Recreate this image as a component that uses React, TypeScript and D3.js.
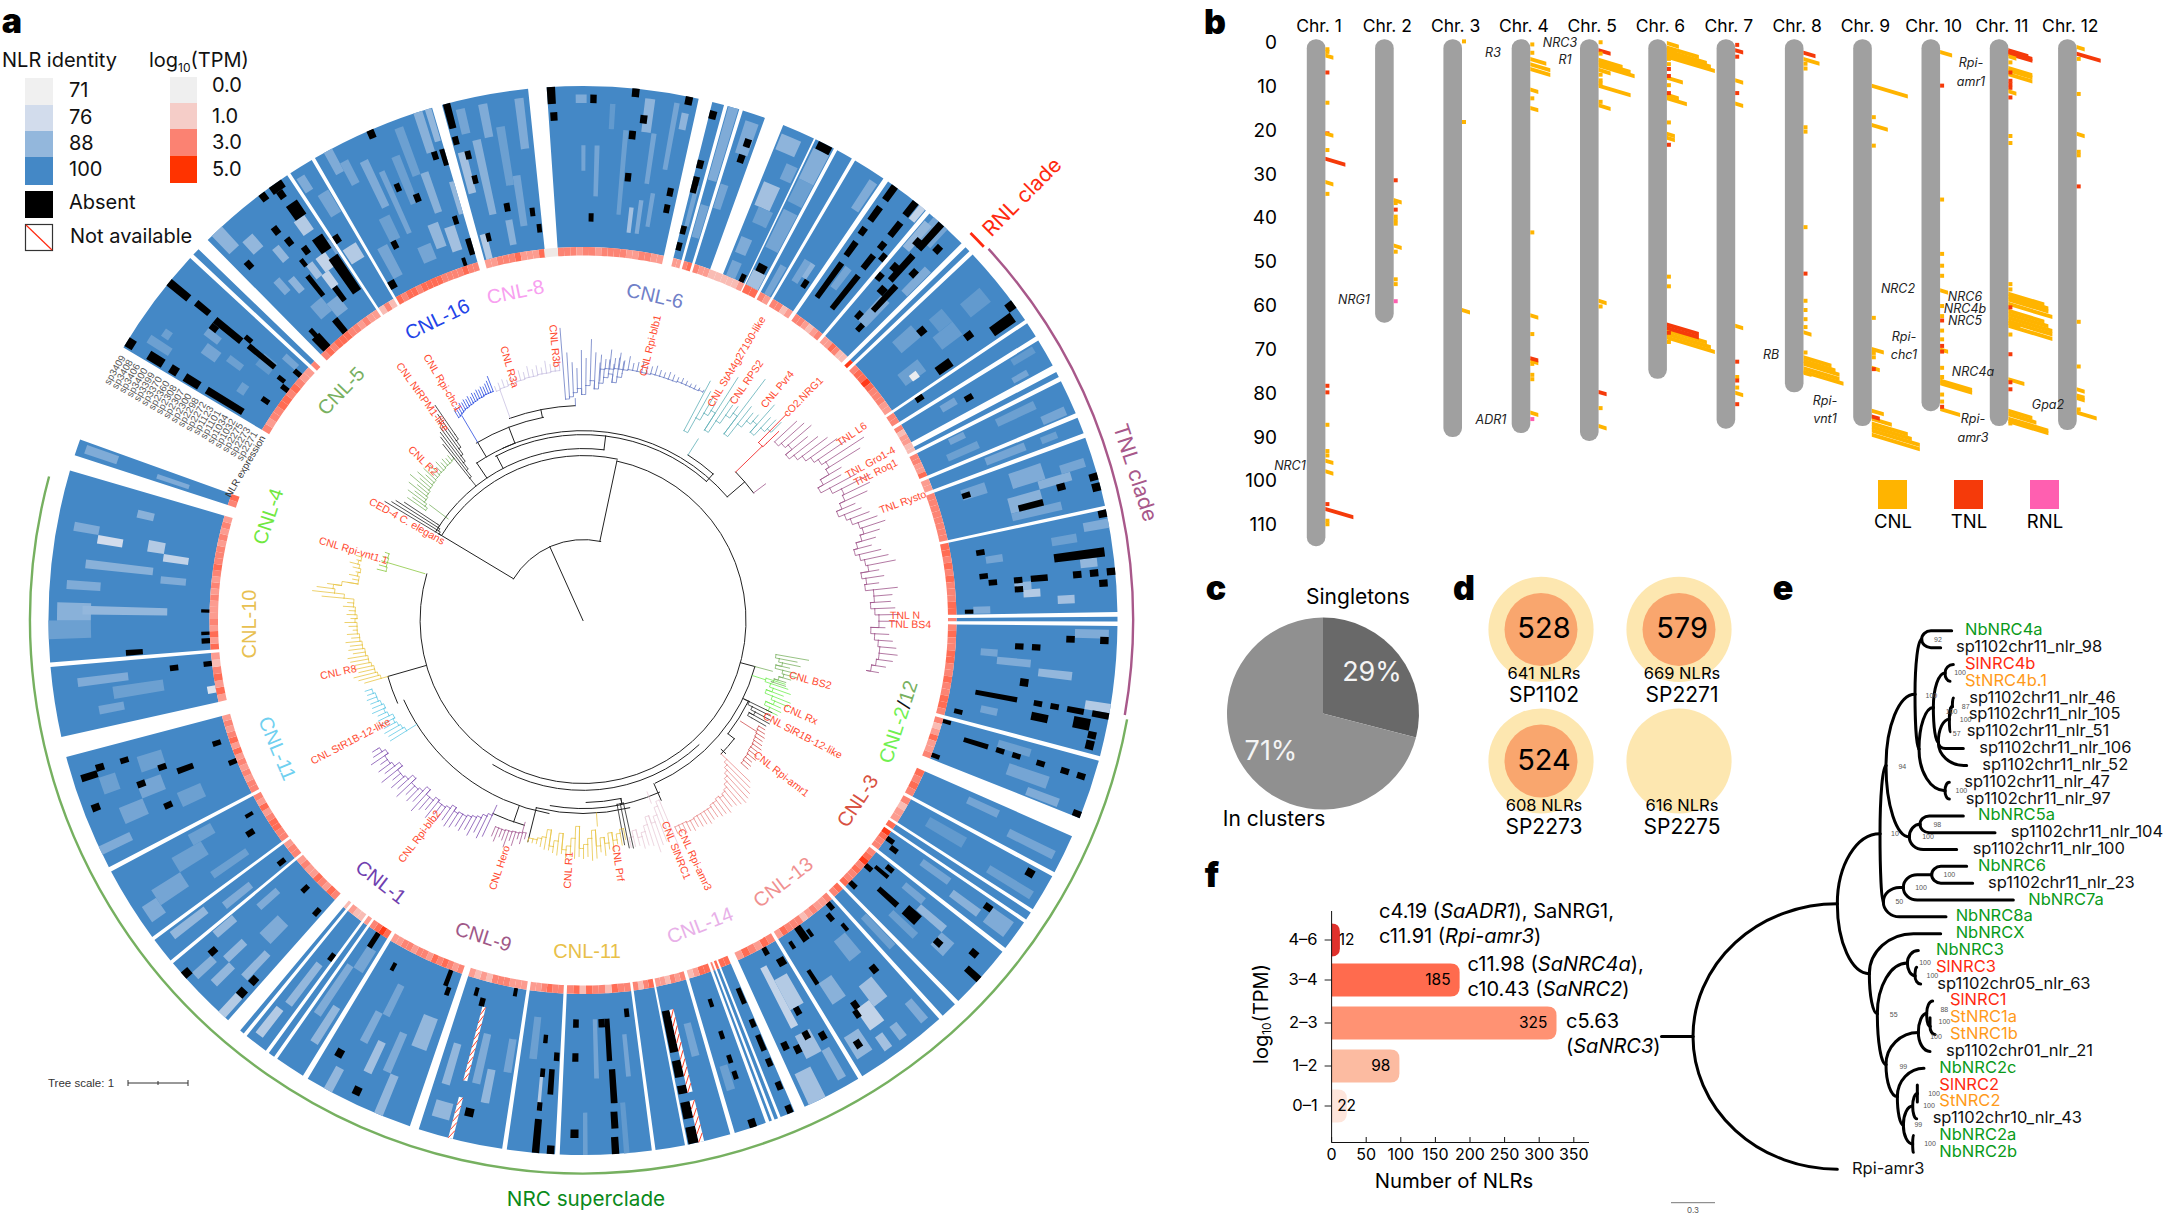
import React from 'react';
import * as d3 from 'd3';

// ---------- panel a: circular heatmap ----------
const CX = 583;
const CY = 620.5;
const RING_IN = 365;
const HEAT_IN = 373.5;
const HEAT_OUT = 534.5;
const ROWS = 19;

const sampleNames = ['sp2271', 'sp2273', 'sp2275', 'sp1032', 'sp1034', 'sp1101', 'sp1123', 'sp2272', 'sp2298', 'sp2300', 'sp2307', 'sp2308', 'sp2360', 'sp3370', 'sp3399', 'sp3400', 'sp3406', 'sp3408', 'sp3409'];

// start deg, end deg, expression levels along the sector
const sectors: [number, number, string][] = [
  [-3.9, 12.5, '33323323333223322'], [14, 15.3, '22'], [15.7, 17, '34'], [17.4, 19.9, '322'],
  [22, 25.6, '1112'], [25.8, 28, '44'], [28.4, 30.2, '32'], [30.6, 34.2, '3312'], [34.8, 39.9, '332123'],
  [40.4, 45.1, '224311'], [45.7, 46.3, '5'], [46.8, 55.8, '3445433322'], [56.2, 57.9, '33'], [58.4, 61.5, '3122'],
  [62.3, 62.9, '1'], [63.4, 67.2, '33224'], [67.7, 69.5, '22'], [70, 77.6, '33333333'], [78, 89.1, '44343433344'],
  [89.6, 90.1, '3'], [90.6, 104.7, '34334433433443'], [105.2, 111.7, '3124223'], [113.8, 118.1, '4343'],
  [118.6, 122.7, '3122'], [123.1, 124, '4'], [124.4, 127.8, '5433'], [128.3, 135.4, '34534334'], [135.9, 137.7, '43'],
  [138.2, 148.5, '32232133342'], [149, 155.5, '342342'], [156.7, 158.3, '44'], [158.6, 159, '4'], [159.3, 159.6, '3'],
  [160, 163.5, '4421'], [164, 168.7, '323122'], [169, 172.2, '4313'], [172.6, 182.5, '3341334143'], [183, 188.2, '334322'],
  [188.7, 197.9, '2223331212'], [198.9, 211, '32343423323322'], [211.6, 214.9, '4543'], [215.3, 216, '2'], [216.4, 219, '112'],
  [219.4, 219.9, '1'], [221.6, 230.1, '342342232'], [230.5, 233.3, '332'], [233.7, 242, '334432423'], [242.5, 255.2, '33232324243232'],
  [257.4, 265, '2424312'], [265.5, 286.3, '4242322232323433323232'], [288, 289.8, '34'], [300.7, 312.7, '32334434322'],
  [313.2, 314, '3'], [315.4, 326.4, '343444332322'], [326.8, 329.5, '131'], [329.9, 343.6, '4344344443333433'], [344.7, 354.1, '2233342224'],
];
const ringExtras: [number, number, string][] = [[-6, -3.9, '0'], [19.9, 22, '11'], [61.5, 62.3, '1']];
const ringColors = ['#efe9e6', '#f9bcb4', '#fc9c90', '#fc8474', '#ff6c54', '#ff3a18'];

// deg start, deg end, row start, row end
const absentRuns: [number, number, number, number][] = [
  [-3.9, -3, 17, 19], [-3.7, -2.9, 15, 16], [0.8, 1.5, 17, 18], [5.3, 6.1, 18, 19], [6.5, 7.3, 15, 16], [5.4, 6.2, 13, 14], [5.4, 6.2, 8, 9], [0.8, 1.5, 3, 4],
  [11.1, 11.9, 18, 19], [11.1, 11.9, 7, 8], [11.1, 11.9, 5, 6], [14, 14.8, 17, 18], [14, 14.8, 11, 12], [14, 14.8, 8, 10], [14, 14.8, 3, 4], [14, 14.8, 1, 2],
  [18.6, 19.4, 15, 16], [18.5, 19.3, 13, 14], [26.2, 27.6, 2, 3], [24.6, 25.4, 0, 1], [26.2, 27.8, 18, 19], [33, 33.8, 3, 4],
  [35.5, 36.3, 3, 8], [38.2, 39, 3, 8], [35.4, 36.2, 9, 11], [38.1, 38.9, 9, 11], [35.3, 36.1, 12, 13], [35.3, 36.1, 14, 16], [35.3, 36.1, 17, 19],
  [38.2, 39, 12, 13], [39.2, 39.9, 11, 12], [38.2, 39, 14, 16], [38.1, 38.9, 17, 19], [41.7, 42.5, 15, 19], [41.1, 41.9, 15, 16], [43.3, 44.1, 16, 17],
  [41.7, 42.5, 10, 14], [43.2, 44, 12, 13], [41, 41.8, 11, 12], [40.4, 41.2, 9, 10], [42.7, 43.5, 6, 10], [41.7, 42.7, 8, 9], [41.7, 42.5, 4, 5], [43, 43.8, 3, 4],
  [53.2, 54.2, 18, 19], [54.2, 55.4, 15, 18], [49, 50, 8, 9], [53.1, 54, 12, 13], [54.3, 55.5, 7, 9], [56.2, 57, 3, 4], [59.6, 60.4, 8, 9],
  [73.9, 74.7, 18, 19], [75, 75.9, 18, 19], [74, 74.8, 14, 15], [71.5, 72.3, 3, 4], [75.2, 76, 9, 12], [78, 78.8, 18, 19], [79.9, 80.7, 3, 4], [82, 83, 12, 18],
  [83.3, 84.1, 3, 4], [84.3, 85.1, 4, 5], [84.3, 85.1, 7, 8], [84.3, 85.1, 9, 11], [84.3, 85.1, 14, 15], [84.3, 85.1, 16, 17], [84.3, 85.1, 18, 19],
  [85.5, 86.3, 17, 18], [85.5, 86.3, 7, 8], [88.4, 89, 1, 2], [91.8, 92.6, 13, 14], [91.8, 92.6, 17, 18], [93, 93.8, 7, 8], [93, 93.8, 9, 10], [97.5, 98.5, 8, 9],
  [100, 100.7, 3, 8], [100, 100.7, 10, 11], [100, 100.7, 12, 13], [100, 100.7, 14, 16], [100, 100.7, 17, 19], [103.3, 104, 1, 2], [101.5, 102.5, 10, 12],
  [101, 102.3, 15, 17], [102.3, 103.1, 17, 18], [103.3, 104.3, 17, 18], [105.3, 105.9, 0, 1], [107, 107.7, 3, 6], [107, 107.7, 7, 8], [107, 107.7, 9, 10],
  [107, 107.7, 12, 13], [107, 107.7, 15, 16], [107, 107.7, 17, 18], [110.7, 111.4, 0, 1], [111, 111.7, 18, 19], [119, 119.9, 16, 17],
  [125.2, 126, 0, 1], [126, 126.8, 1, 2], [124.9, 125.7, 14, 15], [128.6, 129.4, 2, 3], [130.5, 131.3, 0, 1], [129.8, 130.4, 1, 3], [131.8, 132.6, 3, 6],
  [131.1, 132.6, 7, 9], [131.8, 132.6, 12, 13], [130, 130.8, 16, 17], [131.8, 132.6, 17, 19], [134, 134.8, 0, 1],
  [138.7, 139.5, 0, 1], [139.8, 140.6, 1, 2], [139.2, 139.8, 3, 4], [139.7, 140.6, 9, 10], [144.3, 145.1, 11, 12], [144.8, 145.5, 12, 13], [146.6, 147.4, 15, 16],
  [144.5, 145.6, 0, 2], [143.7, 144.3, 1, 2], [146.9, 147.5, 1, 2], [146.9, 147.5, 5, 7],
  [150.7, 151.5, 0, 1], [149.2, 150.4, 2, 3], [150.8, 151.6, 8, 9], [151.3, 152.1, 11, 12], [149.6, 150.4, 12, 13], [153, 153.8, 12, 13], [154.2, 155, 11, 12],
  [156.8, 157.5, 3, 5], [156.8, 157.5, 7, 8], [156.8, 157.5, 9, 11], [156.8, 157.5, 12, 13], [156.8, 157.5, 15, 16], [156.8, 157.5, 18, 19],
  [161.2, 161.8, 3, 4], [161.2, 161.8, 7, 8], [161.2, 161.8, 10, 11], [161.2, 161.8, 12, 13], [161, 161.8, 18, 19],
  [167.5, 168.6, 3, 8], [167.5, 168.6, 9, 11], [167.5, 168.6, 12, 13], [167.5, 168.6, 14, 16], [167.5, 168.6, 17, 19],
  [173.3, 174, 2, 3], [176.2, 176.9, 3, 8], [176.9, 177.8, 3, 4], [175.9, 176.7, 9, 13], [176, 176.8, 14, 16], [176.1, 176.9, 17, 19],
  [180.6, 181.4, 3, 4], [180.6, 181.4, 7, 8], [180.5, 181.4, 16, 17], [183.1, 183.9, 18, 19], [183.1, 183.8, 7, 8], [183.6, 184.3, 9, 12],
  [184.8, 185.4, 5, 6], [184.8, 185.4, 9, 10], [184.8, 185.4, 13, 14], [184.7, 185.5, 15, 19], [190, 190.6, 0, 1], [194.4, 195.2, 2, 3], [195.7, 196.3, 1, 2], [192.5, 193.5, 15, 16],
  [199.7, 200.4, 2, 3], [200.3, 201, 0, 2], [208.9, 209.8, 14, 15], [205.2, 206.1, 17, 18], [216.4, 217.1, 5, 6], [212.8, 213.6, 0, 2], [208.4, 209, 2, 3],
  [222, 222.9, 13, 14], [222, 223, 15, 16], [222, 222.8, 2, 3], [225.6, 226.4, 1, 2], [227.8, 228.6, 14, 15], [227.9, 228.8, 18, 19], [230.9, 231.7, 1, 2],
  [237, 237.9, 2, 3], [239.5, 240.1, 1, 2], [245.6, 246.4, 9, 10], [249.3, 250.1, 11, 12], [248.6, 249.4, 17, 18], [252.1, 252.9, 16, 18], [252.7, 253.5, 15, 16],
  [252.7, 253.4, 12, 13], [250.4, 251.2, 8, 9], [249.2, 250, 5, 7], [251.1, 251.9, 1, 2], [247.6, 248.4, 0, 1],
  [265.6, 266.3, 8, 10], [263, 263.8, 4, 5], [263, 263.8, 0, 1], [266.5, 267.3, 0, 1], [267.8, 268.3, 0, 1], [271.2, 271.7, 0, 1],
  [300.9, 302, 18, 19], [300.9, 302, 14, 16], [300.9, 302, 12, 13], [300.9, 302, 9, 11], [301, 302, 3, 8], [308.8, 309.7, 16, 19], [309, 309.8, 13, 15], [308.8, 309.7, 8, 12],
  [308, 308.8, 11, 12], [309.7, 310.4, 7, 8], [309, 309.8, 3, 7], [310.5, 311.3, 0, 1], [308.3, 309, 1, 2], [307.5, 308.3, 0, 1], [304.3, 305.1, 1, 2],
  [316, 317.5, 0, 2], [316.5, 317.2, 1, 3], [320, 321, 0, 2], [316.4, 317.2, 13, 14], [322.6, 323.4, 18, 19], [321.4, 322.2, 14, 15], [321.8, 322.6, 12, 13],
  [322.8, 323.6, 10, 11], [321.7, 322.3, 9, 10], [321, 321.7, 5, 8], [322.9, 323.7, 3, 5], [324, 325.6, 18, 19], [324.3, 325.1, 17, 18], [324.3, 325.8, 14, 16],
  [324.5, 326, 9, 11], [326.8, 327.6, 9, 10], [324.8, 326.2, 3, 8], [329.9, 331, 1, 2], [341.4, 342, 0, 1], [342.8, 343.6, 1, 3], [336.5, 337.2, 11, 12],
  [336.1, 336.9, 18, 19], [338.2, 339, 9, 10], [333, 333.8, 5, 6], [342, 342.7, 13, 14], [343, 343.6, 12, 14], [344.8, 345.6, 16, 19], [344.8, 345.5, 14, 15],
  [345.8, 346.5, 12, 13], [345.9, 346.6, 9, 10], [342, 342.7, 5, 6], [345.8, 346.5, 2, 3], [349.2, 350, 5, 6], [352.6, 353.3, 4, 5], [353.3, 354, 2, 3],
];

// deg start, deg end, row start, row end, identity
const lightRuns: [number, number, number, number, number][] = [
  [6.8, 7.9, 14, 18, 85], [4.7, 5.3, 4, 14, 92], [1.4, 2, 6, 12, 90], [-0.2, 0.3, 9, 12, 90], [-0.8, 0.4, 17, 18, 88], [10, 10.6, 10, 18, 90], [8, 8.6, 8, 14, 90], [11, 11.8, 15, 17, 85], [7.6, 8.2, 2, 6, 88], [6.4, 7, 2, 5, 82], [9, 9.6, 3, 7, 90], [3, 3.6, 14, 17, 94],
  [14.4, 15, 4, 9, 90], [15.8, 16.9, 10, 19, 88], [15.8, 16.9, 3, 7, 90], [17.5, 18.5, 7, 10, 90], [18, 19.5, 14, 18, 88],
  [22.2, 24.5, 16, 18, 85], [22.4, 24.5, 9, 12, 82], [23, 25, 7, 9, 92], [22.4, 24, 3, 5, 88], [22.5, 24, 0, 2, 90], [24, 25.4, 13, 15, 90],
  [25.9, 27.9, 0, 2, 82], [26, 27.9, 5, 10, 90], [26, 27.9, 11, 14, 92], [26, 27.9, 14, 18, 87], [29, 30, 0, 4, 90],
  [32.4, 33.2, 4, 6, 85], [33, 34, 14, 18, 88], [31.5, 32.5, 3, 6, 90], [36.5, 37.5, 5, 8, 90], [39, 39.8, 17, 19, 78],
  [44, 45, 10, 14, 88], [41, 43, 16, 19, 90], [40.5, 41.5, 14, 18, 84], [42.5, 44, 4, 8, 88],
  [50, 52, 14, 17, 94], [48, 50, 5, 8, 92], [51, 53, 9, 12, 93], [49, 51, 10, 12, 94], [52, 54, 3, 6, 92], [53.1, 54.1, 4, 5, 72],
  [59, 60, 5, 7, 90], [60.5, 61.2, 14, 16, 90], [58.6, 59.4, 15, 18, 94], [64, 65, 10, 15, 92], [65.5, 66.5, 3, 7, 92], [66, 67, 15, 18, 90], [63.6, 64.5, 4, 6, 90], [68, 69, 7, 12, 90], [68.2, 69, 14, 16, 92],
  [71, 73, 9, 13, 88], [73, 74, 12, 16, 86], [72, 73, 15, 18, 90], [74, 76, 8, 12, 86], [76, 77, 8, 14, 90], [71, 72.5, 3, 6, 90],
  [79, 80, 16, 19, 88], [80, 81, 12, 15, 92], [83, 84, 15, 17, 84], [85, 86, 7, 9, 84], [86, 87, 8, 10, 80], [87, 88, 12, 14, 82], [81, 82, 4, 6, 90], [88, 89, 2, 4, 88],
  [91, 92, 14, 18, 88], [94, 95, 3, 5, 90], [96, 97, 10, 14, 84], [95, 96, 5, 9, 88], [99, 100, 16, 19, 80], [102, 103, 4, 6, 90],
  [106, 107, 7, 11, 92], [108.5, 110, 9, 14, 90], [110.5, 111.5, 12, 16, 88], [114.5, 115.5, 6, 10, 90], [116, 117, 12, 18, 90], [119.5, 121, 3, 8, 94], [121, 122, 12, 18, 92],
  [125, 126, 5, 9, 90], [126, 127, 10, 14, 86], [125, 127, 15, 18, 88], [129, 130, 5, 8, 90], [130, 131, 8, 12, 84], [131, 133, 12, 14, 88], [133, 134, 6, 10, 92], [136, 137, 4, 9, 92],
  [141, 143, 10, 13, 82], [143, 145, 12, 15, 78], [145, 147, 7, 10, 86], [146, 148, 14, 17, 84], [140, 142, 4, 7, 90], [139, 140, 15, 18, 88], [142, 143, 16, 18, 86], [144, 145, 16, 18, 82],
  [150, 152, 4, 8, 80], [152, 153, 2, 10, 78], [151, 153, 11, 14, 82], [153, 155, 15, 19, 82], [150, 151, 14, 18, 86],
  [165, 166, 5, 9, 90], [162, 163, 11, 14, 92], [178, 178.6, 3, 10, 90], [179.5, 180, 14, 19, 92], [174, 174.6, 5, 10, 90], [175, 175.6, 13, 19, 94], [186, 187, 3, 8, 92], [185, 185.4, 10, 14, 80],
  [189, 190, 6, 10, 90], [191, 192, 10, 14, 84], [192.5, 193.5, 6, 12, 88], [196, 197, 8, 13, 84], [195, 197, 15, 17, 84],
  [200, 202, 6, 10, 84], [203, 204, 9, 14, 88], [202, 203, 14, 19, 84], [205, 206, 11, 15, 82], [207, 208, 8, 12, 88], [208, 209, 16, 19, 84], [206, 207, 4, 8, 90],
  [212, 213, 10, 15, 84], [213.5, 214.5, 5, 12, 88], [212, 213.5, 2, 5, 90], [217, 218, 7, 13, 84], [217.5, 218.5, 14, 18, 80],
  [223, 224, 10, 14, 84], [224, 226, 6, 9, 88], [226, 227, 11, 14, 84], [228, 229, 4, 7, 88], [225, 226, 14, 17, 84], [222, 223, 16, 19, 80], [227, 228, 15, 18, 86], [229, 230, 10, 13, 84],
  [231, 232, 6, 10, 88], [232, 233, 12, 17, 84], [235, 236, 4, 9, 92], [238, 240, 8, 12, 92], [236, 238, 12, 16, 90], [235, 237, 16, 18, 88], [240, 241.5, 6, 9, 92],
  [245, 247, 5, 8, 92], [248, 250, 9, 12, 90], [246, 248, 12, 15, 90], [251, 253, 8, 11, 92], [250, 252, 14, 16, 92], [244, 245, 15, 19, 88],
  [259, 260, 11, 14, 90], [260.5, 262, 6, 12, 92], [262.5, 263.5, 10, 16, 88], [258.9, 260, 0, 1, 74],
  [268, 270, 14, 19, 92], [270, 272, 14, 18, 86], [270.7, 271.7, 5, 15, 84], [275, 276, 3, 6, 88], [276, 277, 7, 15, 86], [278, 279, 3, 6, 78], [279, 280.5, 6, 8, 80], [279, 280, 11, 14, 76], [280, 281, 14, 17, 88], [273.5, 274.5, 13, 17, 88], [283, 284, 8, 10, 86],
  [288.5, 289.5, 14, 18, 88], [288.4, 289, 5, 9, 88],
  [302.5, 303.5, 14, 17, 92], [304, 305, 15, 16, 92], [306, 307, 6, 8, 92], [308, 310, 3, 5, 94], [311, 312, 1, 3, 90], [303.5, 305, 4, 5, 92], [307, 308, 10, 12, 90], [305, 306.5, 9, 11, 90],
  [316, 317.5, 16, 19, 85], [318, 319.5, 14, 16, 84], [320, 321, 11, 13, 84], [317.5, 318.5, 8, 10, 88], [319, 320, 7, 9, 85], [322, 323, 7, 9, 82], [322.8, 324, 5, 7, 78], [323.5, 325, 7, 9, 78], [321, 323, 2, 4, 88], [319, 321, 3, 5, 90], [324, 325.5, 12, 14, 80], [326, 326.4, 8, 10, 90],
  [327, 328, 16, 18, 88], [328, 329.4, 12, 15, 90], [327, 329, 6, 8, 80],
  [331, 332, 16, 19, 88], [332, 333, 14, 17, 90], [334, 335, 10, 16, 88], [335.5, 336.2, 6, 14, 90], [337.5, 338.5, 9, 15, 92], [339, 340, 12, 18, 92], [340, 341, 7, 12, 86], [341.5, 342.5, 14, 19, 86], [342.8, 343.5, 15, 19, 84], [331, 332.5, 2, 6, 90], [333, 334.5, 6, 9, 92], [336, 338, 2, 4, 90], [338.5, 340, 3, 6, 84], [340.5, 342, 2, 5, 82], [343, 343.6, 6, 10, 84],
  [345, 346, 8, 13, 82], [347, 348, 5, 14, 86], [346, 347, 15, 18, 90], [348.5, 349.5, 14, 18, 88], [350, 351, 8, 15, 92], [351, 352, 3, 9, 90], [352.5, 353.5, 12, 18, 88], [349, 350, 1, 4, 86], [345, 346, 0, 3, 80],
];

// not-available columns: deg start, deg end, row start, row end
const missingRuns: [number, number, number, number][] = [[166.9, 167.5, 3, 13], [166.9, 167.5, 14, 19], [194.1, 194.6, 3, 12], [194.1, 194.6, 14, 19]];

const identityColor = d3.scaleLinear<string>().domain([71, 76, 84, 100]).range(['#f0f0f0', '#d2dcec', '#93b7dc', '#4488c6']);

// tree backbone: radius, deg start, deg end
const backboneArcs: [number, number, number][] = [
  [81, -59, 12.6], [163, 12, 286.6], [165, -59, 12], [172, -59, 7], [186, -28, 41.6], [190, -25, 49.4], [190, -34, -21], [207, -31, -11], [215, -20, -2],
  [196, 32.4, 41.6], [213, 45.8, 53.2], [170, 137, 212], [178, 105, 156], [188, 156, 190], [196, 190, 246], [203, 246, 254], [182, 168, 179], [193, 166, 194], [213, 196, 205],
  [184, 116, 128], [192, 128, 134],
];
// deg, radius start, radius end
const backboneRadials: [number, number, number][] = [
  [-24.2, 0, 81], [12, 81, 163], [-59, 81, 168], [7, 172, 186], [-27.7, 172, 186], [41.6, 186, 196], [49.4, 190, 213], [-21, 190, 207], [-34, 172, 190], [-11.3, 207, 215],
  [156.5, 178, 196], [194, 193, 228], [133, 189, 195], [199, 196, 213], [105, 163, 178], [254, 163, 203], [-30.6, 190, 207], [168, 182, 187], [128, 184, 192], [116, 178, 185],
];

// each clade: angular range, stem, spine radius and tip radius for every leaf
const cnl5Spine = [192, 195, 198, 198, 200, 200, 202, 202, 203, 203, 204, 204, 205, 205, 205, 206, 206, 206, 207, 207];
const cnl5Tips = [214, 210, 218, 212, 222, 214, 226, 216, 222, 214, 220, 212, 218, 212, 216, 212, 214, 212, 213, 210];
const blackASpine = [182, 190, 198, 205, 212, 220, 226];
const blackATips = [225, 232, 236, 240, 246, 252, 261];
const ced4Spine = [168, 170, 172, 174];
const ced4Tips = [231, 225, 222, 214];
const cnl16Spine = [238, 239, 240, 241, 242, 242, 243, 243, 244, 244, 245, 245, 245, 246, 246, 246, 246, 246];
const cnl16Tips = [246, 248, 247, 250, 249, 251, 250, 252, 250, 253, 252, 254, 253, 255, 254, 256, 258, 262];
const cnl8Spine = [245, 246, 246, 247, 247, 248, 248, 249, 249, 249, 250, 250, 250, 251, 251, 251];
const cnl8Tips = [250, 252, 254, 252, 256, 254, 258, 255, 260, 256, 259, 256, 262, 258, 260, 262];
const cnl6ASpine = [222, 224, 228, 232, 226, 235, 240, 232, 238, 244, 248, 240, 246, 250];
const cnl6ATips = [293, 268, 258, 252, 270, 262, 281, 268, 258, 252, 262, 258, 265, 262];
const cnl6BSpine = [252, 253, 253, 254, 254, 254, 255, 255, 255, 255, 255, 256, 256, 256, 256, 256, 256, 257, 257, 257, 257, 257, 258, 258];
const cnl6BTips = [266, 262, 272, 264, 270, 263, 268, 262, 264, 266, 262, 263, 265, 262, 261, 263, 262, 261, 262, 261, 260, 261, 260, 260];
const tealSpine = [215, 232, 240, 246, 226, 240, 250, 256, 234, 250, 258, 262, 252, 262, 266, 268];
const tealTips = [271, 262, 258, 256, 288, 268, 262, 264, 302, 272, 268, 270, 288, 276, 278, 280];
const rnlSpine = [250, 255];
const rnlTips = [289, 272];
const tnlSpine = [262, 266, 270, 262, 268, 274, 280, 285, 290, 286, 276, 270, 280, 290, 288, 282, 276, 282, 286, 292, 294, 290, 284, 280, 284, 288, 290, 282, 286, 284, 292, 292, 288, 292, 296, 296, 288, 292, 296, 298, 298, 296, 292, 288];
const tnlTips = [292, 296, 300, 290, 298, 305, 312, 318, 335, 326, 300, 296, 310, 322, 318, 312, 296, 300, 306, 312, 318, 310, 304, 298, 306, 312, 318, 300, 304, 298, 316, 310, 308, 312, 316, 314, 302, 306, 310, 314, 316, 312, 306, 300];
const bs2Spine = [196, 200, 204, 198, 206, 208, 204, 200, 198];
const bs2Tips = [229, 218, 222, 212, 220, 222, 216, 212, 213];
const rxSpine = [192, 198, 202, 196, 204, 208, 200, 206, 204];
const rxTips = [212, 216, 220, 214, 223, 222, 216, 218, 216];
const blackBSpine = [185, 190, 195, 190, 195];
const blackBTips = [210, 209, 212, 213, 211];
const cnl3Spine = [205, 206, 207, 208, 209, 210, 210, 211, 212, 212, 213, 213];
const cnl3Tips = [212, 214, 216, 216, 218, 220, 218, 220, 222, 220, 222, 222];
const cnl13Spine = [200, 204, 208, 212, 216, 220, 222, 224, 222, 224, 224, 226, 226, 226, 226, 226, 227, 227, 226, 226, 226, 226];
const cnl13Tips = [232, 236, 240, 242, 244, 242, 240, 238, 242, 240, 240, 238, 238, 240, 238, 238, 236, 238, 236, 236, 234, 233];
const cnl14Spine = [195, 200, 208, 214, 206, 214, 220, 224, 216, 222, 226];
const cnl14Tips = [245, 232, 236, 238, 244, 236, 234, 236, 232, 232, 232];
const blackCSpine = [187, 187, 187];
const blackCTips = [233, 232, 228];
const cnl11Spine = [212, 216, 222, 214, 224, 218, 226, 210, 218, 224, 228, 206, 218, 226, 230, 214, 222, 228, 212, 220, 222, 224, 224, 226];
const cnl11Tips = [223, 228, 226, 232, 230, 236, 232, 238, 240, 236, 238, 236, 238, 236, 238, 234, 236, 234, 232, 232, 230, 228, 228, 228];
const cnl9Spine = [220, 221, 222, 222, 223, 223, 224, 224, 224, 224];
const cnl9Tips = [226, 232, 228, 236, 232, 240, 234, 232, 238, 234];
const cnl1Spine = [215, 218, 222, 224, 226, 228, 228, 230, 226, 230, 232, 232, 230, 234, 234, 228, 234, 236, 236, 230, 236, 238, 238, 232, 238, 240, 240, 236, 240, 242];
const cnl1Tips = [238, 242, 238, 244, 240, 244, 242, 246, 248, 244, 248, 244, 252, 246, 250, 256, 248, 252, 248, 256, 250, 254, 248, 258, 250, 254, 248, 256, 250, 248];
const cnl11bSpine = [208, 210, 212, 214, 212, 216, 218, 216, 218, 220, 220, 222, 222];
const cnl11bTips = [227, 226, 228, 226, 230, 228, 226, 230, 228, 228, 230, 228, 229];
const cnl10Spine = [210, 212, 214, 214, 216, 218, 218, 220, 220, 222, 222, 224, 224, 226, 226, 226, 228, 226, 228, 228, 230, 230, 240, 250, 252, 244, 228, 228, 230, 228, 230, 232, 230, 232];
const cnl10Tips = [227, 232, 236, 230, 234, 232, 236, 238, 232, 236, 234, 238, 232, 236, 230, 234, 238, 232, 236, 234, 240, 236, 262, 272, 268, 258, 238, 234, 238, 232, 236, 240, 234, 236];
const vnt1Spine = [203, 204, 204, 205, 205];
const vnt1Tips = [212, 211, 210, 210, 209];

const clades = [
  { color: '#7cb263', a0: -55, a1: -38.5, stem: [-53, 169, 192], spine: cnl5Spine, tips: cnl5Tips },
  { color: '#222', a0: -38.5, a1: -34.5, stem: [-38.5, 172, 182], spine: blackASpine, tips: blackATips },
  { color: '#222', a0: -59, a1: -56.5, stem: [-59, 165, 168], spine: ced4Spine, tips: ced4Tips },
  { color: '#2a4be0', a0: -31.5, a1: -21.4, stem: [-30.6, 207, 238], spine: cnl16Spine, tips: cnl16Tips },
  { color: '#c9c2e2', a0: -20.7, a1: -5.3, stem: [-19.8, 215, 245], spine: cnl8Spine, tips: cnl8Tips },
  { color: '#6a7cc4', a0: -4.5, a1: 9, stem: [-2, 215, 222], spine: cnl6ASpine, tips: cnl6ATips },
  { color: '#6a7cc4', a0: 4, a1: 27.7, stem: [4, 240, 252], spine: cnl6BSpine, tips: cnl6BTips },
  { color: '#60b0b8', a0: 28, a1: 45, stem: [32.4, 196, 215], spine: tealSpine, tips: tealTips },
  { color: '#f01010', a0: 44.6, a1: 46, stem: [45.8, 213, 250], spine: rnlSpine, tips: rnlTips },
  { color: '#a0578c', a0: 47, a1: 100, stem: [53.2, 213, 228], spine: tnlSpine, tips: tnlTips },
  { color: '#7cb263', a0: 100, a1: 108, stem: [105, 178, 196], spine: bs2Spine, tips: bs2Tips },
  { color: '#70ee50', a0: 107.5, a1: 116, stem: [108, 178, 192], spine: rxSpine, tips: rxTips },
  { color: '#222', a0: 116, a1: 120, stem: [116, 180, 185], spine: blackBSpine, tips: blackBTips },
  { color: '#cf4f4f', a0: 121, a1: 132, stem: [122.6, 187, 205], spine: cnl3Spine, tips: cnl3Tips },
  { color: '#e88a8a', a0: 134, a1: 156, stem: [134, 192, 200], spine: cnl13Spine, tips: cnl13Tips },
  { color: '#e8ccd8', a0: 157, a1: 168, stem: [159.5, 183, 195], spine: cnl14Spine, tips: cnl14Tips },
  { color: '#222', a0: 167.5, a1: 169.5, stem: [168, 182, 187], spine: blackCSpine, tips: blackCTips },
  { color: '#e8c548', a0: 169, a1: 194, stem: [176, 193, 206], spine: cnl11Spine, tips: cnl11Tips },
  { color: '#a55a92', a0: 195, a1: 203, stem: [196, 210, 220], spine: cnl9Spine, tips: cnl9Tips },
  { color: '#7f4fb0', a0: 205, a1: 238, stem: [205, 204, 215], spine: cnl1Spine, tips: cnl1Tips },
  { color: '#60c8e4', a0: 238, a1: 252, stem: [238, 196, 208], spine: cnl11bSpine, tips: cnl11bTips },
  { color: '#e8c548', a0: 254, a1: 286, stem: [254, 203, 210], spine: cnl10Spine, tips: cnl10Tips },
  { color: '#8cc840', a0: 284, a1: 289, stem: [286.5, 165, 203], spine: vnt1Spine, tips: vnt1Tips },
];

// label, deg, radius
const treeLabels: [string, number, number][] = [
  ['CNL Rpi-chc1', -30.7, 276], ['CNL NtRPM1-like', -35.8, 275], ['CNL R3a', -16.3, 264], ['CNL R3b', -6, 276], ['CNL Rpi-blb1', 13.9, 283],
  ['CNL StAt4g27190-like', 30.8, 301], ['CNL RPS2', 34.6, 289], ['CNL Pvr4', 40.2, 302], ['cO2.NRG1', 44.7, 314], ['TNL L6', 55.4, 327],
  ['TNL Gro1-4', 61.3, 328], ['TNL Roq1', 63.3, 328], ['TNL Rysto', 69.8, 341], ['TNL N', 89.2, 322], ['TNL BS4', 90.8, 327], ['CNL R2', -45.2, 226],
  ['CED-4 C. elegans', -60.8, 202], ['CNL Rpi-vnt1.1', -73.2, 240], ['CNL R8', 257.9, 250], ['CNL StR1B-12-like', 242.4, 262], ['CNL Rpi-blb2', 217, 271],
  ['CNL Hero', 198.5, 261], ['CNL R1', 183.2, 250], ['CNL Prf', 171.9, 245], ['CNL SlNRC1', 158.1, 248], ['CNL Rpi-amr3', 155.1, 264], ['CNL Rpi-amr1', 127.9, 251],
  ['CNL SlR1B-12-like', 117.8, 248], ['CNL Rx', 113.5, 237], ['CNL BS2', 104.9, 235],
];

// label, color, deg, radius, rotation
const cladeLabels: [string, string, number, number, number][] = [
  ['CNL-16', '#2244e8', -25.8, 333, -25.8], ['CNL-8', '#f8a0f0', -11.6, 334, -11.6], ['CNL-6', '#7080c8', 12.5, 331, 12.5], ['CNL-5', '#78b060', -46.5, 332, -46.5],
  ['CNL-3', '#d85040', 123.3, 330, -56.7], ['CNL-13', '#f09090', 142.6, 331, -37.4], ['CNL-14', '#e8b0e8', 159, 328, -21], ['CNL-11', '#e8c048', 179.3, 332, 0],
  ['CNL-9', '#a05888', 197.5, 333, 17.5], ['CNL-1', '#7040b0', 217.7, 332, 37.7], ['CNL-11', '#70d0f0', 247.3, 333, 67.3], ['CNL-10', '#e8c050', 269.4, 332, -90], ['CNL-4', '#70e840', -71.7, 330, -71.7],
];

// ---------- panel b ----------
const chrNames = d3.range(1, 13).map((d) => `Chr. ${d}`);
const chrEnds = [114.6, 63.6, 89.7, 88.8, 90.6, 76.4, 87.8, 79.5, 87.2, 83.8, 87.2, 88.1];
const mbTicks = d3.range(0, 111, 10);
type Nlr = [number, number, string?];
const chr1Nlrs: Nlr[] = [[1.8, 1], [1.2, 1], [2.6, 2], [6.5, 1, 'T'], [13.4, 1], [20.4, 1, 'T'], [20.4, 2], [24.2, 1], [26.2, 5, 'T'], [31.5, 2], [34.2, 1], [78, 1, 'T'], [79.5, 1, 'T'], [86.9, 1], [92.9, 1], [93.9, 1], [95.1, 2], [97.5, 2], [105, 1, 'T'], [106.1, 7, 'T'], [108.8, 1], [109.6, 1]];
const chr2Nlrs: Nlr[] = [[31.1, 1, 'T'], [35.6, 2], [36.3, 1], [37.8, 1, 'T'], [39.4, 1], [40.2, 1], [41, 1], [46, 2], [47.4, 1], [53.7, 1], [54.8, 1], [58.7, 1, 'R']];
const chr3Nlrs: Nlr[] = [[-0.6, 1], [17.8, 1], [60.7, 2]];
const chr4Nlrs: Nlr[] = [[0.1, 1], [2, 1], [3.4, 4], [4.6, 5], [5.7, 5], [10.4, 2], [12.4, 1], [14.6, 2], [43, 1], [61.9, 2], [66.2, 1], [72.3, 2], [71.7, 2, 'T'], [73, 1], [75.5, 1], [76.5, 1], [84.1, 2], [85.6, 1, 'R']];
const chr5Nlrs: Nlr[] = [[-0.4, 1], [1.4, 3, 'T'], [2.2, 1], [3.6, 6], [4.2, 8], [4.9, 9], [5.9, 3], [7, 1], [8.3, 1], [9, 1], [9.5, 8], [13.2, 1], [14, 3], [58.6, 2], [59.9, 1], [79.4, 2, 'T'], [83.1, 1], [87.2, 2]];
const chr6Nlrs: Nlr[] = [[-0.2, 3], [0.8, 8], [1.6, 10], [2.2, 11], [2.9, 12], [1, 2], [3.4, 1], [4.6, 1], [5.7, 1, 'T'], [7.7, 4], [7.3, 1, 'T'], [9.4, 1], [11.6, 3], [11.2, 1, 'T'], [12.4, 5], [17.9, 1], [20.5, 2], [21.4, 2], [23, 1, 'T'], [53.1, 1], [55.3, 1], [65.4, 10], [66.2, 11], [67, 12], [64, 8, 'T'], [64.8, 8, 'T'], [65.9, 1, 'T'], [68, 1]];
const chr7Nlrs: Nlr[] = [[0.2, 1, 'T'], [1.4, 2, 'T'], [2.9, 1, 'T'], [8.3, 2], [11.2, 1, 'T'], [13.6, 2], [64.3, 2], [72.5, 1, 'T'], [76, 1], [76.8, 1, 'T'], [78.4, 1], [79.6, 2], [82.2, 1, 'T']];
const chr8Nlrs: Nlr[] = [[2, 3, 'T'], [3.4, 4], [4.5, 1], [5.6, 1], [19, 1], [20, 1], [41.8, 1], [52.4, 1, 'T'], [58.6, 1], [60.7, 1], [62.8, 1], [64.6, 1], [65.8, 2], [70.4, 1], [71.5, 7], [72.3, 8], [73, 9], [74, 9], [74.8, 10], [75, 2]];
const chr9Nlrs: Nlr[] = [[9.5, 9], [16.7, 1], [18.5, 4], [23.2, 1], [62.5, 1], [69.6, 3], [70.5, 1], [71.5, 1], [73.9, 2], [74.2, 1, 'T'], [83.7, 3], [85.5, 5], [85, 2, 'T'], [86.6, 9], [87.4, 10], [88.2, 12], [89.2, 12]];
const chr10Nlrs: Nlr[] = [[1.8, 3], [9.5, 1, 'T'], [35.5, 1], [47.9, 1], [50.6, 1], [52.9, 1], [56.2, 2], [59.8, 1], [62.1, 1], [63.1, 1, 'T'], [65.4, 1], [67.4, 1], [69.7, 2], [68.9, 1, 'T'], [70.2, 1, 'T'], [73.9, 1], [76, 1], [76.8, 8], [77.4, 8], [80, 1], [81.6, 1], [83.3, 5], [82.8, 1, 'T']];
const chr11Nlrs: Nlr[] = [[1.4, 5, 'T'], [1.8, 6, 'T'], [2.2, 6, 'T'], [2.8, 2], [4.2, 1], [5.5, 6], [6, 6], [6.9, 6], [6.5, 1, 'T'], [8.4, 1, 'T'], [9.2, 1, 'T'], [10, 1, 'T'], [10.8, 2], [12.2, 1, 'T'], [21, 1], [22.6, 1], [54.8, 1], [56, 1], [57, 9], [57.6, 10], [58.3, 10], [59.3, 11], [60.9, 9], [60.1, 1, 'T'], [61.7, 10], [62.5, 11], [63.3, 11], [63.7, 3], [64.3, 11], [66.3, 1], [70.8, 1, 'T'], [76.5, 4], [77.2, 1, 'T'], [78.8, 1, 'T'], [83.7, 6], [84.5, 7], [85.5, 10], [86.1, 10], [86.6, 1]];
const chr12Nlrs: Nlr[] = [[0.7, 2], [2.2, 6, 'T'], [3.4, 1], [11.4, 1], [20.5, 2], [24.6, 1], [25.4, 1], [32.5, 1, 'T'], [63.4, 1], [73.6, 1], [78.8, 2], [80.2, 2], [80.8, 2], [83.4, 1], [84.1, 5]];
const allChrNlrs = [chr1Nlrs, chr2Nlrs, chr3Nlrs, chr4Nlrs, chr5Nlrs, chr6Nlrs, chr7Nlrs, chr8Nlrs, chr9Nlrs, chr10Nlrs, chr11Nlrs, chr12Nlrs];
const nlrColors: Record<string, string> = { C: '#ffb400', T: '#f53a0a', R: '#ff5fb0' };
// label lines, x, y
const chrGeneLabels: [string, number, number][] = [
  ['R3', 1493, 54], ['NRC3', 1560, 44], ['R1', 1565, 61], ['NRG1', 1354, 301], ['NRC1', 1290, 467], ['ADR1', 1491, 421], ['RB', 1771, 356], ['Rpi-', 1825, 402], ['vnt1', 1825, 420],
  ['NRC2', 1898, 290], ['NRC6', 1965, 298], ['NRC4b', 1965, 310], ['NRC5', 1965, 322], ['Rpi-', 1904, 338], ['chc1', 1904, 356], ['NRC4a', 1973, 373], ['Rpi-', 1971, 64], ['amr1', 1971, 83],
  ['Rpi-', 1973, 420], ['amr3', 1973, 439], ['Gpa2', 2048, 406],
];

// ---------- panel c, d ----------
const pieShares = [29, 71];
const pieColors = ['#696969', '#909090'];
const donutX = [1541, 1679];
const donutY = [629.4, 761];
const donutCore = ['528', '579', '524', ''];
const donutCounts = ['641 NLRs', '669 NLRs', '608 NLRs', '616 NLRs'];
const donutNames = ['SP1102', 'SP2271', 'SP2273', 'SP2275'];

// ---------- panel f ----------
const tpmBins = ['4–6', '3–4', '2–3', '1–2', '0–1'];
const tpmCounts = [12, 185, 325, 98, 22];
const tpmColors = ['#e0312c', '#ff6b4e', '#ff9273', '#fcbba1', '#fee5db'];
const tpmCenters = [940, 980, 1023, 1066, 1106];

// ---------- panel e ----------
const leafNames = ['NbNRC4a', 'sp1102chr11_nlr_98', 'SlNRC4b', 'StNRC4b.1', 'sp1102chr11_nlr_46', 'sp1102chr11_nlr_105', 'sp1102chr11_nlr_51', 'sp1102chr11_nlr_106', 'sp1102chr11_nlr_52', 'sp1102chr11_nlr_47', 'sp1102chr11_nlr_97', 'NbNRC5a', 'sp1102chr11_nlr_104', 'sp1102chr11_nlr_100', 'NbNRC6', 'sp1102chr11_nlr_23', 'NbNRC7a', 'NbNRC8a', 'NbNRCX', 'NbNRC3', 'SlNRC3', 'sp1102chr05_nlr_63', 'SlNRC1', 'StNRC1a', 'StNRC1b', 'sp1102chr01_nlr_21', 'NbNRC2c', 'SlNRC2', 'StNRC2', 'sp1102chr10_nlr_43', 'NbNRC2a', 'NbNRC2b', 'Rpi-amr3'];
const leafKinds = ['g', 'k', 'r', 'o', 'k', 'k', 'k', 'k', 'k', 'k', 'k', 'g', 'k', 'k', 'g', 'k', 'g', 'g', 'g', 'g', 'r', 'k', 'r', 'o', 'o', 'k', 'g', 'r', 'o', 'k', 'g', 'g', 'k'];
const leafEnds = [755, 722, 760, 750, 760, 750, 750, 790, 800, 748, 748, 790, 885, 770, 800, 818, 940, 738, 722, 655, 650, 662, 698, 690, 705, 690, 672, 652, 652, 650, 640, 640, 412];
const leafTextX = [795, 768, 795, 795, 808, 806, 800, 838, 847, 793, 797, 834, 932, 818, 834, 864, 985, 767, 767, 708, 708, 712, 750, 750, 750, 738, 718, 718, 718, 698, 718, 718, 456];
const leafColors: Record<string, string> = { g: '#0a9a1a', k: '#111', r: '#ff2a10', o: '#ff9a1a' };
// label, x, y
const bootstraps: [string, number, number][] = [
  ['92', 714, 102], ['100', 780, 186], ['100', 694, 243], ['87', 797, 271], ['100', 755, 284], ['100', 797, 303], ['57', 770, 340], ['98', 712, 569], ['100', 684, 600], ['10', 585, 593], ['94', 607, 422],
  ['100', 748, 697], ['100', 663, 729], ['50', 598, 765], ['100', 675, 920], ['100', 697, 952], ['88', 733, 1037], ['100', 733, 1068], ['100', 708, 1106], ['55', 581, 1051], ['99', 610, 1182],
  ['100', 702, 1249], ['100', 687, 1281], ['99', 655, 1329], ['100', 690, 1377], ['100', 784, 484],
];
type TNode = { x?: number; leaf?: number; children?: TNode[] };
const n = (x: number, ...kids: (TNode | number)[]): TNode => ({ x, children: kids.map((k) => (typeof k === 'number' ? { leaf: k } : k)) });
const nrcTree = n(-21,
  n(412,
    n(540,
      n(558,
        n(645, n(665, 0, 1), n(657, n(700, n(735, 2, 3), n(715, n(748, n(757, 4, 5), 6), 7, 8)), n(735, 9, 10))),
        n(628, n(660, 11, 12), 13)),
      n(550, n(610, n(695, 14, 15), 16), 17)),
    n(508, 18,
      n(532,
        n(622, 19, n(645, 20, 21)),
        n(558,
          n(655, n(680, 22, n(690, 23, 24)), 25),
          n(592, 26, n(610, n(638, n(652, 27, 28), 29), n(638, 30, 31))))))),
  32);

// ---------- helpers ----------
const rad = (d: number) => (d * Math.PI) / 180;
const polar = (deg: number, r: number): [number, number] => [CX + r * Math.sin(rad(deg)), CY - r * Math.cos(rad(deg))];
const rowScale = d3.scaleLinear().domain([0, ROWS]).range([HEAT_IN, HEAT_OUT]);
const wedge = d3.arc<{ innerRadius: number; outerRadius: number; startAngle: number; endAngle: number }>();
const cell = (a0: number, a1: number, r0: number, r1: number) =>
  wedge({ innerRadius: r0, outerRadius: r1, startAngle: rad(a0), endAngle: rad(a1) }) as string;
const arcLine = (r: number, a0: number, a1: number) => {
  const p = d3.path();
  p.arc(CX, CY, r, rad(a0 - 90), rad(a1 - 90));
  return p.toString();
};
const radialLine = (deg: number, r0: number, r1: number) => {
  const p = d3.path();
  p.moveTo(...polar(deg, r0));
  p.lineTo(...polar(deg, r1));
  return p.toString();
};

const cladePath = (c: (typeof clades)[number]) => {
  const ang = d3.scaleLinear().domain([0, c.tips.length - 1]).range([c.a0, c.a1]);
  const p = d3.path();
  p.moveTo(...polar(c.stem[0], c.stem[1]));
  p.lineTo(...polar(c.stem[0], c.stem[2]));
  c.tips.forEach((tip, i) => {
    const a = ang(i);
    const sp = c.spine[i];
    p.moveTo(...polar(a, sp));
    p.lineTo(...polar(a, tip));
    if (i < c.tips.length - 1) {
      const b = ang(i + 1);
      p.moveTo(...polar(a, sp));
      p.arc(CX, CY, sp, rad(a - 90), rad(b - 90));
      p.lineTo(...polar(b, c.spine[i + 1]));
    }
  });
  return p.toString();
};

const HEAD = 'Inter, "Liberation Sans", sans-serif';
const ARIAL = '"Liberation Sans", Arial, sans-serif';

function PanelLetter({ t, x, y }: { t: string; x: number; y: number }) {
  return <text x={x} y={y} fontFamily={HEAD} fontWeight={900} fontSize={34} textAnchor="middle">{t}</text>;
}

function HeatRing() {
  const sampleAngle = 299.9;
  return (
    <g>
      <g transform={`translate(${CX},${CY})`}>
        {sectors.map(([a0, a1], i) => <path key={i} d={cell(a0, a1, HEAT_IN, HEAT_OUT)} fill="#4488c6" />)}
        {lightRuns.map(([a0, a1, r0, r1, v], i) => <path key={i} d={cell(a0, a1, rowScale(r0), rowScale(r1))} fill={identityColor(v)} />)}
        {absentRuns.map(([a0, a1, r0, r1], i) => <path key={i} d={cell(a0, a1, rowScale(r0), rowScale(r1))} fill="#000" />)}
        {[...sectors, ...ringExtras].map(([a0, a1, levels], i) => {
          const step = (a1 - a0) / levels.length;
          return levels.split('').map((lv, j) => (
            <path key={`${i}-${j}`} d={cell(a0 + j * step, a0 + (j + 1) * step, RING_IN, HEAT_IN)} fill={ringColors[+lv]} />
          ));
        })}
        {missingRuns.map(([a0, a1, r0, r1], i) => (
          <g key={i}>
            <path d={cell(a0, a1, rowScale(r0), rowScale(r1))} fill="#fff" />
            {d3.range(r0, r1).map((row) => {
              const [x1, y1] = polar(a0, rowScale(row));
              const [x2, y2] = polar(a1, rowScale(row + 1));
              return <line key={row} x1={x1 - CX} y1={y1 - CY} x2={x2 - CX} y2={y2 - CY} stroke="#ff2a10" strokeWidth={0.9} />;
            })}
          </g>
        ))}
      </g>
      {sampleNames.map((s, i) => {
        const [x, y] = polar(sampleAngle, rowScale(i + 0.5));
        return <text key={s} x={x} y={y} transform={`rotate(-59.6 ${x} ${y})`} textAnchor="end" fontFamily={ARIAL} fontSize={9.8} fill="#555" dy={3}>{s}</text>;
      })}
      {(() => {
        const [x, y] = polar(sampleAngle, 369);
        return <text x={x} y={y} transform={`rotate(-59.6 ${x} ${y})`} textAnchor="end" fontFamily={ARIAL} fontSize={9.8} fill="#333" dy={3}>NLR expression</text>;
      })()}
    </g>
  );
}

function RadialTree() {
  return (
    <g fill="none" strokeLinecap="square">
      {backboneArcs.map(([r, a0, a1], i) => <path key={i} d={arcLine(r, a0, a1)} stroke="#222" strokeWidth={1} />)}
      {backboneRadials.map(([d, r0, r1], i) => <path key={i} d={radialLine(d, r0, r1)} stroke="#222" strokeWidth={1} />)}
      {clades.map((c, i) => <path key={i} d={cladePath(c)} stroke={c.color} strokeWidth={0.8} />)}
      {treeLabels.map(([t, deg, r]) => {
        const [x, y] = polar(deg, r);
        const norm = ((deg % 360) + 360) % 360;
        const rot = norm <= 180 ? norm - 90 : norm + 90;
        return <text key={t} x={x} y={y} transform={`rotate(${rot} ${x} ${y})`} textAnchor="middle" dominantBaseline="middle" stroke="none" fill="#ff4a30" fontFamily={ARIAL} fontSize={10.5}>{t}</text>;
      })}
      {cladeLabels.map(([t, color, deg, r, rot], i) => {
        const [x, y] = polar(deg, r);
        return <text key={i} x={x} y={y} transform={`rotate(${rot} ${x} ${y})`} textAnchor="middle" dominantBaseline="middle" stroke="none" fill={color} fontFamily={ARIAL} fontSize={20}>{t}</text>;
      })}
      {(() => {
        const [x, y] = polar(107.8, 333);
        return (
          <text x={x} y={y} transform={`rotate(-72 ${x} ${y})`} textAnchor="middle" dominantBaseline="middle" stroke="none" fontFamily={ARIAL} fontSize={20}>
            <tspan fill="#70f050">CNL-2</tspan><tspan fill="#111">/</tspan><tspan fill="#78b060">12</tspan>
          </text>
        );
      })()}
    </g>
  );
}

function CladeArcs() {
  return (
    <g fill="none">
      <path d={arcLine(548, 45, 47)} stroke="#ff2a10" strokeWidth={2.8} />
      <path d={arcLine(550, 47.5, 99.9)} stroke="#a8588a" strokeWidth={2.4} />
      <path d={arcLine(553, 100.3, 285.1)} stroke="#76b060" strokeWidth={2.4} />
      <text x={1023} y={198} transform="rotate(-45 1023 198)" textAnchor="middle" dominantBaseline="middle" fill="#ff2a10" fontFamily={HEAD} fontSize={21}>RNL clade</text>
      <text x={1134} y={473} transform="rotate(72 1134 473)" textAnchor="middle" dominantBaseline="middle" fill="#a8588a" fontFamily={HEAD} fontSize={21}>TNL clade</text>
      <text x={586} y={1200} textAnchor="middle" dominantBaseline="middle" fill="#0a8a1a" fontFamily={HEAD} fontSize={20.7}>NRC superclade</text>
      <text x={48} y={1087} fill="#333" fontFamily={ARIAL} fontSize={11.5}>Tree scale: 1</text>
      <path d="M128 1083H188M128 1080v6M158 1081v4M188 1080v6" stroke="#333" strokeWidth={1} />
    </g>
  );
}

function LegendA() {
  const ys = [78, 105, 131, 157];
  const reds = [77, 103, 129, 155.7];
  const blue = ['#f0f0f0', '#d2dcec', '#93b7dc', '#4488c6'];
  const red = ['#efefef', '#f5cdc8', '#fb8272', '#ff3300'];
  const idLabels = ['71', '76', '88', '100'];
  const tpmLabels = ['0.0', '1.0', '3.0', '5.0'];
  const tpmYs = [87, 118, 144, 171];
  return (
    <g fontFamily={HEAD} fontSize={20} fill="#111">
      <text x={2} y={67}>NLR identity</text>
      <text x={149} y={67}>log<tspan fontSize={12} dy={5}>10</tspan><tspan dy={-5}>(TPM)</tspan></text>
      {idLabels.map((t, i) => (
        <g key={t}>
          <rect x={25} y={ys[i]} width={28} height={(i === 3 ? 185 : ys[i + 1]) - ys[i]} fill={blue[i]} />
          <text x={69} y={ys[i] + 14} dominantBaseline="middle">{t}</text>
        </g>
      ))}
      {tpmLabels.map((t, i) => (
        <g key={t}>
          <rect x={170} y={reds[i]} width={27} height={(i === 3 ? 183 : reds[i + 1]) - reds[i]} fill={red[i]} />
          <text x={212} y={tpmYs[i]} dominantBaseline="middle">{t}</text>
        </g>
      ))}
      <rect x={25} y={191} width={28} height={27} fill="#000" />
      <text x={69} y={204} dominantBaseline="middle">Absent</text>
      <rect x={25.5} y={224.5} width={27} height={26} fill="#fff" stroke="#333" strokeWidth={1.2} />
      <line x1={26} y1={225} x2={52} y2={250} stroke="#ff2a10" strokeWidth={1.2} />
      <text x={70} y={238} dominantBaseline="middle">Not available</text>
    </g>
  );
}

function ChromosomeMap() {
  const y = d3.scaleLinear().domain([0, 110]).range([44, 526]);
  const chrX = d3.scaleBand<number>().domain(d3.range(12)).range([1306.8, 1306.8 + 68.3 * 12]);
  const nlrW = d3.scaleLinear().domain([0, 1]).range([0, 4]);
  const slope = 0.3;
  const barW = 18.6;
  return (
    <g fontFamily={HEAD}>
      {chrNames.map((t, i) => (
        <text key={t} x={(chrX(i) as number) + 12.2} y={32} textAnchor="middle" fontSize={17.5}>{t}</text>
      ))}
      {mbTicks.map((m) => <text key={m} x={1277} y={y(m)} textAnchor="end" dominantBaseline="middle" fontSize={19}>{m}</text>)}
      {chrEnds.map((e, i) => (
        <rect key={i} x={chrX(i)} y={y(-1.1)} width={barW} height={y(e) - y(-1.1)} rx={9} fill="#a0a0a0" />
      ))}
      {allChrNlrs.map((list, i) => {
        const x0 = (chrX(i) as number) + barW;
        return list.map(([mb, count, kind], j) => {
          const w = nlrW(count);
          const y0 = y(mb) - 2;
          const drop = count > 1 ? w * slope : 0;
          const p = d3.path();
          p.moveTo(x0, y0);
          p.lineTo(x0 + w, y0 + drop);
          p.lineTo(x0 + w, y0 + drop + 4);
          p.lineTo(x0, y0 + 4);
          p.closePath();
          return <path key={j} d={p.toString()} fill={nlrColors[kind ?? 'C']} />;
        });
      })}
      {chrGeneLabels.map(([t, x, yy], i) => (
        <text key={i} x={x} y={yy} textAnchor="middle" dominantBaseline="middle" fontStyle="italic" fontSize={12.5} fill="#222">{t}</text>
      ))}
      {['CNL', 'TNL', 'RNL'].map((t, i) => {
        const xs = [1878, 1954, 2030];
        const kinds = ['C', 'T', 'R'];
        return (
          <g key={t}>
            <rect x={xs[i]} y={480} width={29} height={29} fill={nlrColors[kinds[i]]} />
            <text x={xs[i] + 15} y={523} textAnchor="middle" dominantBaseline="middle" fontSize={18.5}>{t}</text>
          </g>
        );
      })}
    </g>
  );
}

function PieAndDonuts() {
  const slices = d3.pie<number>().sort(null)(pieShares);
  const pieArc = d3.arc<d3.PieArcDatum<number>>().innerRadius(0).outerRadius(96);
  return (
    <g fontFamily={HEAD}>
      <g transform="translate(1323,713.6)">
        {slices.map((s, i) => <path key={i} d={pieArc(s) as string} fill={pieColors[i]} />)}
      </g>
      <text x={1372} y={674} textAnchor="middle" dominantBaseline="middle" fontSize={27} fill="#f4f4f4">29%</text>
      <text x={1271} y={753} textAnchor="middle" dominantBaseline="middle" fontSize={27} fill="#f4f4f4">71%</text>
      <text x={1358} y={598.7} textAnchor="middle" dominantBaseline="middle" fontSize={21}>Singletons</text>
      <text x={1274} y={820} textAnchor="middle" dominantBaseline="middle" fontSize={21}>In clusters</text>
      {donutNames.map((name, i) => {
        const x = donutX[i % 2];
        const y = donutY[Math.floor(i / 2)];
        return (
          <g key={name}>
            <circle cx={x} cy={y} r={52.6} fill="#fde7b0" />
            {donutCore[i] && <circle cx={x} cy={y} r={36.5} fill="#f9a66e" />}
            {donutCore[i] && <text x={x + 3} y={y + 1} textAnchor="middle" dominantBaseline="middle" fontSize={29}>{donutCore[i]}</text>}
            <text x={x + 3} y={y + 45} textAnchor="middle" dominantBaseline="middle" fontSize={16.5}>{donutCounts[i]}</text>
            <text x={x + 3} y={y + 67} textAnchor="middle" dominantBaseline="middle" fontSize={21}>{name}</text>
          </g>
        );
      })}
    </g>
  );
}

function BarsF() {
  const x = d3.scaleLinear().domain([0, 350]).range([1331.6, 1573.8]);
  const h = 33;
  const notes: [string, string, string, number, number][] = [
    ['c4.19 (', 'SaADR1', '), SaNRG1,', 1379, 913],
    ['c11.91 (', 'Rpi-amr3', ')', 1379, 938],
    ['c11.98 (', 'SaNRC4a', '),', 1467.5, 966],
    ['c10.43 (', 'SaNRC2', ')', 1467.5, 991],
    ['c5.63', '', '', 1566, 1023],
    ['(', 'SaNRC3', ')', 1566, 1048],
  ];
  return (
    <g fontFamily={HEAD}>
      {tpmBins.map((b, i) => {
        const y0 = tpmCenters[i] - h / 2;
        const xe = x(tpmCounts[i]);
        const r = Math.min(9, xe - x(0));
        const p = d3.path();
        p.moveTo(x(0), y0);
        p.lineTo(xe - r, y0);
        p.quadraticCurveTo(xe, y0, xe, y0 + r);
        p.lineTo(xe, y0 + h - r);
        p.quadraticCurveTo(xe, y0 + h, xe - r, y0 + h);
        p.lineTo(x(0), y0 + h);
        p.closePath();
        const small = tpmCounts[i] < 30;
        return (
          <g key={b}>
            <path d={p.toString()} fill={tpmColors[i]} />
            <line x1={x(0) - 7} x2={x(0)} y1={tpmCenters[i]} y2={tpmCenters[i]} stroke="#222" />
            <text x={x(0) - 14} y={tpmCenters[i]} textAnchor="end" dominantBaseline="middle" fontSize={16.5}>{b}</text>
            <text x={small ? x(0) + 15 : xe - 9} y={tpmCenters[i] + 1} textAnchor={small ? 'middle' : 'end'} dominantBaseline="middle" fontSize={15.5}>{tpmCounts[i]}</text>
          </g>
        );
      })}
      <line x1={x(0)} x2={x(0)} y1={911} y2={1142.5} stroke="#111" />
      <line x1={x(0)} x2={1589} y1={1142.5} y2={1142.5} stroke="#111" />
      {x.ticks(7).map((t) => (
        <g key={t}>
          <line x1={x(t)} x2={x(t)} y1={1137} y2={1142.5} stroke="#111" />
          <text x={x(t)} y={1156} textAnchor="middle" dominantBaseline="middle" fontSize={16}>{t}</text>
        </g>
      ))}
      <text x={1454} y={1182} textAnchor="middle" dominantBaseline="middle" fontSize={20.3}>Number of NLRs</text>
      <text transform="translate(1263,1014) rotate(-90)" textAnchor="middle" dominantBaseline="middle" fontSize={20}>log<tspan fontSize={12} dy={5}>10</tspan><tspan dy={-5}>(TPM)</tspan></text>
      {notes.map(([a, it, b, nx, ny], i) => (
        <text key={i} x={nx} y={ny} dominantBaseline="middle" fontSize={20}>{a}<tspan fontStyle="italic">{it}</tspan>{b}</text>
      ))}
    </g>
  );
}

function TreeE() {
  const ex = d3.scaleLinear().domain([0, 464 * 3]).range([1700, 2164]);
  const ey = d3.scaleLinear().domain([0, 620 * 2.53]).range([600, 1220]);
  const leafY = d3.scaleLinear().domain([0, 32]).range([ey(78), ey(1440)]);
  const root = d3.hierarchy<TNode>(nrcTree);
  const yOf = new Map<d3.HierarchyNode<TNode>, number>();
  root.eachAfter((d) => {
    if (d.children) yOf.set(d, (yOf.get(d.children[0])! + yOf.get(d.children[d.children.length - 1])!) / 2);
    else yOf.set(d, leafY(d.data.leaf as number));
  });
  const xOf = (d: d3.HierarchyNode<TNode>) => ex(d.data.leaf !== undefined ? leafEnds[d.data.leaf] : (d.data.x as number));
  const edges = root.links().map(({ source, target }) => {
    const xp = xOf(source);
    const yp = yOf.get(source)!;
    const xc = xOf(target);
    const yc = yOf.get(target)!;
    const dy = Math.abs(yc - yp);
    const rx = Math.min(xc - xp, dy * 1.1);
    return `M${xp} ${yp}A${rx} ${dy} 0 0 ${yc > yp ? 0 : 1} ${xp + rx} ${yc}L${xc} ${yc}`;
  });
  return (
    <g fontFamily={HEAD}>
      <g fill="none" stroke="#000" strokeWidth={3} strokeLinecap="round">
        {edges.map((d, i) => <path key={i} d={d} />)}
        <line x1={1661.5} x2={xOf(root)} y1={yOf.get(root)} y2={yOf.get(root)} />
      </g>
      {leafNames.map((t, i) => (
        <text key={t} x={ex(leafTextX[i])} y={leafY(i)} dominantBaseline="middle" fontSize={16.5} fill={leafColors[leafKinds[i]]}>{t}</text>
      ))}
      {bootstraps.map(([t, x, y], i) => (
        <text key={i} x={ex(x)} y={ey(y)} textAnchor="middle" dominantBaseline="middle" fontSize={7} fill="#555" fontFamily={ARIAL}>{t}</text>
      ))}
      <line x1={1671} x2={1715} y1={1202.7} y2={1202.7} stroke="#777" strokeWidth={1} />
      <text x={1693} y={1211} textAnchor="middle" dominantBaseline="middle" fontSize={8} fill="#555">0.3</text>
    </g>
  );
}

export default function App() {
  return (
    <svg width={2164} height={1220} viewBox="0 0 2164 1220" style={{ position: 'absolute', left: 0, top: 0, background: '#fff' }}>
      <PanelLetter t="a" x={12} y={33} />
      <PanelLetter t="b" x={1215} y={34} />
      <PanelLetter t="c" x={1216} y={600} />
      <PanelLetter t="d" x={1464} y={600} />
      <PanelLetter t="e" x={1783} y={600} />
      <PanelLetter t="f" x={1212} y={887} />
      <LegendA />
      <HeatRing />
      <RadialTree />
      <CladeArcs />
      <ChromosomeMap />
      <PieAndDonuts />
      <BarsF />
      <TreeE />
    </svg>
  );
}
